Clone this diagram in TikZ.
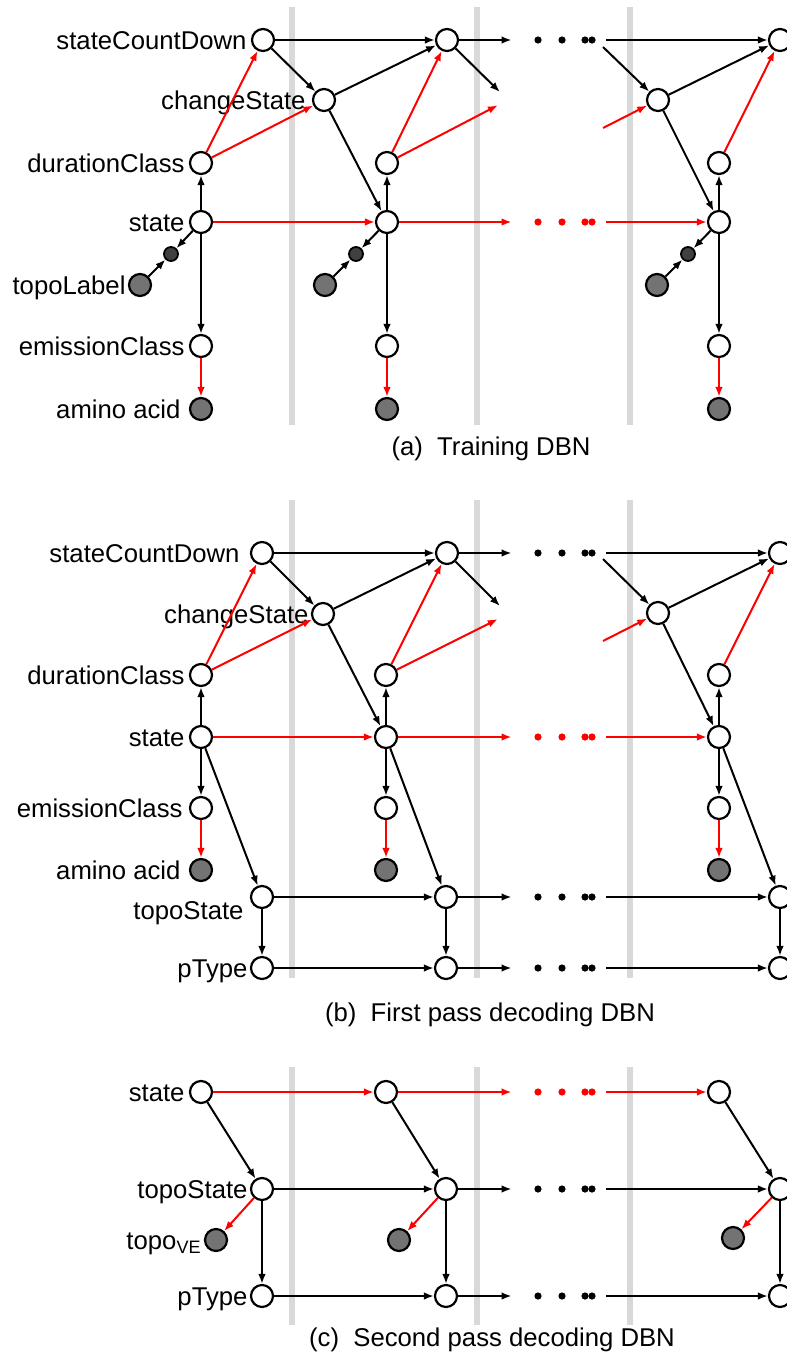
\documentclass[tikz,border=0pt]{standalone}
\usepackage{fontspec}
\setmainfont{Liberation Sans}
\usepackage{tikz}
\usetikzlibrary{arrows.meta,positioning,backgrounds}

\tikzset{
  var/.style={circle,draw,line width=1.1pt,fill=white,minimum size=11pt,inner sep=0pt},
  obs/.style={var,fill=black!55},
  aux/.style={circle,draw,line width=0.9pt,fill=black!75,minimum size=7pt,inner sep=0pt},
  hid/.style={circle,minimum size=11pt,inner sep=0pt},
  lbl/.style={inner sep=1pt,text height=9.2pt,text depth=0pt},
  arr/.style={-{Latex[length=5pt,width=3.8pt]},line width=1pt},
  rarr/.style={arr,red},
  slicebar/.style={line width=2.6pt,black!15},
  dotgap/.style={minimum width=47pt,minimum height=6pt,inner sep=0pt,
    path picture={\foreach \dx in {-10.5,1.5,13,16.5}
      \fill[#1] ([xshift=\dx pt]path picture bounding box.center) circle (1.8pt);}},
}

\begin{document}
\begin{tikzpicture}[x=0.5pt,y=-0.5pt,font=\fontsize{12.85}{15}\selectfont]
  \useasboundingbox (0,0) rectangle (787,1355);

  % (a) training
  \node[var] (sCDa1) at (263,40) {};
  \node[var] (cSa1)  at (324,100) {};
  \node[var] (dCa1)  at (201,163) {};
  \node[var] (sta1)  at (201,222) {};
  \node[aux] (tla1)  at (171,254) {};
  \node[obs] (tLa1)  at (140,285) {};
  \node[var] (eca1)  at (201,346) {};
  \node[obs] (aaa1)  at (201,409) {};
  \node[lbl,left=1pt of sCDa1] (lsCDa) {stateCountDown};
  \node[lbl,left=2pt of cSa1]  (lcSa)  {changeState};
  \node[lbl,left=1pt of dCa1]  (ldCa)  {durationClass};
  \node[lbl,left=1pt of sta1]  (lsta)  {state};
  \node[lbl,left=0pt of tLa1]  (ltLa)  {topoLabel};
  \node[lbl,left=1pt of eca1]  (leca)  {emissionClass};
  \node[lbl,left=3pt of aaa1]  (laaa)  {amino acid};

  \node[var] (sCDa2) at (447,40) {};
  \node[hid] (cSa2)  at (508,100) {};
  \node[var] (dCa2)  at (387,163) {};
  \node[var] (sta2)  at (387,222) {};
  \node[aux] (tla2)  at (356,254) {};
  \node[obs] (tLa2)  at (325,285) {};
  \node[var] (eca2)  at (387,346) {};
  \node[obs] (aaa2)  at (387,409) {};
  \node[dotgap=black] (dta1) at (559,40) {};
  \node[dotgap=red]   (dta2) at (559,222) {};
  \coordinate (sCDa0) at (603,47);
  \coordinate (dCa0)  at (603,128);

  \node[var] (sCDa3) at (780,40) {};
  \node[var] (cSa3)  at (658,100) {};
  \node[var] (dCa3)  at (719,163) {};
  \node[var] (sta3)  at (719,222) {};
  \node[aux] (tla3)  at (688,254) {};
  \node[obs] (tLa3)  at (657,285) {};
  \node[var] (eca3)  at (719,346) {};
  \node[obs] (aaa3)  at (719,409) {};

  \draw[arr] (sCDa1) -- (sCDa2); \draw[arr] (sCDa1) -- (cSa1);
  \draw[arr] (cSa1) -- (sCDa2);  \draw[arr] (cSa1) -- (sta2);
  \draw[rarr] (dCa1) -- (sCDa1); \draw[rarr] (dCa1) -- (cSa1);
  \draw[rarr] (sta1) -- (sta2);
  \draw[arr] (sCDa2) -- (dta1);  \draw[arr] (sCDa2) -- (cSa2);
  \draw[rarr] (dCa2) -- (sCDa2); \draw[rarr] (dCa2) -- (cSa2);
  \draw[rarr] (sta2) -- (dta2);
  \draw[arr] (dta1) -- (sCDa3);  \draw[arr] (sCDa0) -- (cSa3);
  \draw[rarr] (dCa0) -- (cSa3);  \draw[rarr] (dta2) -- (sta3);
  \draw[arr] (cSa3) -- (sCDa3);  \draw[arr] (cSa3) -- (sta3);
  \draw[rarr] (dCa3) -- (sCDa3);
  \foreach \i in {1,2,3} {
    \draw[arr] (sta\i) -- (dCa\i);
    \draw[arr] (sta\i) -- (tla\i);
    \draw[arr] (tLa\i) -- (tla\i);
    \draw[arr] (sta\i) -- (eca\i);
    \draw[rarr] (eca\i) -- (aaa\i);
  }
  \node[lbl] (capa) at (491,446) {(a)~~Training DBN};

  % (b) first pass
  \node[var] (sCDb1) at (262,553) {};
  \node[var] (cSb1)  at (323,614) {};
  \node[var] (dCb1)  at (201,675) {};
  \node[var] (stb1)  at (201,737) {};
  \node[var] (ecb1)  at (201,808) {};
  \node[obs] (aab1)  at (201,870) {};
  \node[var] (tSb1)  at (262,897) {};
  \node[var] (pTb1)  at (262,968) {};
  \node[lbl,left=4pt of sCDb1] (lsCDb) {stateCountDown};
  \node[lbl,left=0pt of cSb1]  (lcSb)  {changeState};
  \node[lbl,left=1pt of dCb1]  (ldCb)  {durationClass};
  \node[lbl,left=1pt of stb1]  (lstb)  {state};
  \node[lbl,left=2pt of ecb1]  (lecb)  {emissionClass};
  \node[lbl,left=3pt of aab1]  (laab)  {amino acid};
  \node[lbl,left=2pt of tSb1,yshift=-6.5pt] (ltSb) {topoState};
  \node[lbl,left=0pt of pTb1]  (lpTb)  {pType};

  \node[var] (sCDb2) at (447,553) {};
  \node[hid] (cSb2)  at (508,614) {};
  \node[var] (dCb2)  at (386,675) {};
  \node[var] (stb2)  at (386,737) {};
  \node[var] (ecb2)  at (386,808) {};
  \node[obs] (aab2)  at (386,870) {};
  \node[var] (tSb2)  at (446,897) {};
  \node[var] (pTb2)  at (446,968) {};
  \node[dotgap=black] (dtb1) at (559,553) {};
  \node[dotgap=red]   (dtb2) at (559,737) {};
  \node[dotgap=black] (dtb3) at (559,897) {};
  \node[dotgap=black] (dtb4) at (559,968) {};
  \coordinate (sCDb0) at (603,559);
  \coordinate (dCb0)  at (603,641);

  \node[var] (sCDb3) at (780,553) {};
  \node[var] (cSb3)  at (658,613) {};
  \node[var] (dCb3)  at (719,675) {};
  \node[var] (stb3)  at (719,737) {};
  \node[var] (ecb3)  at (719,808) {};
  \node[obs] (aab3)  at (719,870) {};
  \node[var] (tSb3)  at (780,897) {};
  \node[var] (pTb3)  at (780,968) {};

  \draw[arr] (sCDb1) -- (sCDb2); \draw[arr] (sCDb1) -- (cSb1);
  \draw[arr] (cSb1) -- (sCDb2);  \draw[arr] (cSb1) -- (stb2);
  \draw[rarr] (dCb1) -- (sCDb1); \draw[rarr] (dCb1) -- (cSb1);
  \draw[rarr] (stb1) -- (stb2);
  \draw[arr] (tSb1) -- (tSb2);   \draw[arr] (pTb1) -- (pTb2);
  \draw[arr] (sCDb2) -- (dtb1);  \draw[arr] (sCDb2) -- (cSb2);
  \draw[rarr] (dCb2) -- (sCDb2); \draw[rarr] (dCb2) -- (cSb2);
  \draw[rarr] (stb2) -- (dtb2);
  \draw[arr] (tSb2) -- (dtb3);   \draw[arr] (pTb2) -- (dtb4);
  \draw[arr] (dtb1) -- (sCDb3);  \draw[arr] (sCDb0) -- (cSb3);
  \draw[rarr] (dCb0) -- (cSb3);  \draw[rarr] (dtb2) -- (stb3);
  \draw[arr] (dtb3) -- (tSb3);   \draw[arr] (dtb4) -- (pTb3);
  \draw[arr] (cSb3) -- (sCDb3);  \draw[arr] (cSb3) -- (stb3);
  \draw[rarr] (dCb3) -- (sCDb3);
  \foreach \i in {1,2,3} {
    \draw[arr] (stb\i) -- (dCb\i);
    \draw[arr] (stb\i) -- (ecb\i);
    \draw[rarr] (ecb\i) -- (aab\i);
    \draw[arr] (stb\i) -- (tSb\i);
    \draw[arr] (tSb\i) -- (pTb\i);
  }
  \node[lbl] (capb) at (490,1012) {(b)~~First pass decoding DBN};

  % (c) second pass
  \node[var] (stc1) at (201,1092) {};
  \node[var] (tSc1) at (262,1189) {};
  \node[obs] (tVc1) at (216,1240) {};
  \node[var] (pTc1) at (262,1296) {};
  \node[lbl,left=1pt of stc1] (lstc) {state};
  \node[lbl,left=0pt of tSc1] (ltSc) {topoState};
  \node[lbl,left=0pt of tVc1] (ltVc) {topo\textsubscript{VE}};
  \node[lbl,left=0pt of pTc1] (lpTc) {pType};

  \node[var] (stc2) at (386,1092) {};
  \node[var] (tSc2) at (446,1189) {};
  \node[obs] (tVc2) at (399,1240) {};
  \node[var] (pTc2) at (446,1296) {};
  \node[dotgap=red]   (dtc1) at (559,1092) {};
  \node[dotgap=black] (dtc2) at (559,1189) {};
  \node[dotgap=black] (dtc3) at (559,1296) {};

  \node[var] (stc3) at (719,1092) {};
  \node[var] (tSc3) at (780,1189) {};
  \node[obs] (tVc3) at (733,1238) {};
  \node[var] (pTc3) at (780,1296) {};

  \draw[rarr] (stc1) -- (stc2); \draw[rarr] (stc2) -- (dtc1); \draw[rarr] (dtc1) -- (stc3);
  \draw[arr] (tSc1) -- (tSc2);  \draw[arr] (tSc2) -- (dtc2);  \draw[arr] (dtc2) -- (tSc3);
  \draw[arr] (pTc1) -- (pTc2);  \draw[arr] (pTc2) -- (dtc3);  \draw[arr] (dtc3) -- (pTc3);
  \foreach \i in {1,2,3} {
    \draw[arr] (stc\i) -- (tSc\i);
    \draw[rarr] (tSc\i) -- (tVc\i);
    \draw[arr] (tSc\i) -- (pTc\i);
  }
  \node[lbl] (capc) at (492,1337) {(c)~~Second pass decoding DBN};

  % Background
  \begin{scope}[on background layer]
    \foreach \x in {292,477,630} {
      \draw[slicebar] (\x,7) -- (\x,425);
      \draw[slicebar] (\x,500) -- (\x,978);
      \draw[slicebar] (\x,1067) -- (\x,1325);
    }
  \end{scope}
\end{tikzpicture}
\end{document}
